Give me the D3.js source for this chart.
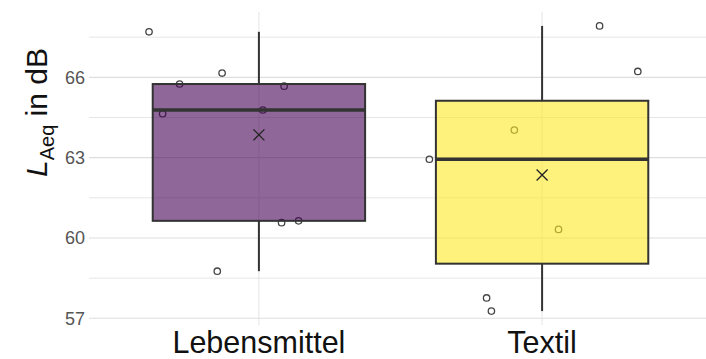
<!DOCTYPE html>
<html><head><meta charset="utf-8">
<script src="https://cdn.jsdelivr.net/npm/d3@7"></script>
<style>body{margin:0;background:#fff}svg{display:block}</style>
</head><body>
<svg id="c" width="706" height="359"></svg>
<script>
const categories = ["Lebensmittel", "Textil"];
const fillColors = ["#440154", "#FDE725"];
const valuesLebensmittel = [67.70, 65.75, 66.16, 65.67, 64.64, 64.78, 60.57, 60.64, 58.76];
const jitterLebensmittel = [-0.388, -0.280, -0.130, 0.089, -0.340, 0.014, 0.080, 0.140, -0.147];
const valuesTextil = [67.92, 66.22, 64.03, 62.94, 60.32, 57.76, 57.27];
const jitterTextil = [0.203, 0.338, -0.098, -0.398, 0.058, -0.196, -0.179];
const yTicks = [57, 60, 63, 66];
const yMinor = [58.5, 61.5, 64.5, 67.5];

const svg = d3.select("#c");
const font = "'Liberation Sans', Arial, sans-serif";
const panel = {left: 89, right: 712, top: 12, bottom: 325};

const y = d3.scaleLinear().domain([56.75, 68.44]).range([panel.bottom, panel.top]);
const x = d3.scalePoint().domain(categories).range([panel.left, panel.right]).padding(0.6);
const step = x.step();

const groups = [
  {name: categories[0], vals: valuesLebensmittel, jit: jitterLebensmittel, fill: fillColors[0]},
  {name: categories[1], vals: valuesTextil, jit: jitterTextil, fill: fillColors[1]}
];
groups.forEach(g => {
  const s = g.vals.slice().sort(d3.ascending);
  g.q1 = d3.quantile(s, 0.25); g.med = d3.quantile(s, 0.5); g.q3 = d3.quantile(s, 0.75);
  g.min = s[0]; g.max = s[s.length - 1]; g.mean = d3.mean(s);
});

// grid
const grid = svg.append("g");
grid.selectAll("line.minor").data(yMinor).enter().append("line")
  .attr("x1", panel.left).attr("x2", 706).attr("y1", d => y(d)).attr("y2", d => y(d))
  .attr("stroke", "#e6e6e6").attr("stroke-width", 1);
grid.selectAll("line.major").data(yTicks).enter().append("line")
  .attr("x1", panel.left).attr("x2", 706).attr("y1", d => y(d)).attr("y2", d => y(d))
  .attr("stroke", "#dedede").attr("stroke-width", 1.1);
grid.selectAll("line.vx").data(categories).enter().append("line")
  .attr("x1", d => x(d)).attr("x2", d => x(d)).attr("y1", panel.top).attr("y2", panel.bottom)
  .attr("stroke", "#e3e3e3").attr("stroke-width", 1);

// whiskers
groups.forEach(g => {
  svg.append("line").attr("x1", x(g.name)).attr("x2", x(g.name))
    .attr("y1", y(g.max)).attr("y2", y(g.q3)).attr("stroke", "#333").attr("stroke-width", 2);
  svg.append("line").attr("x1", x(g.name)).attr("x2", x(g.name))
    .attr("y1", y(g.q1)).attr("y2", y(g.min)).attr("stroke", "#333").attr("stroke-width", 2);
});

// points (under box)
groups.forEach(g => {
  svg.append("g").selectAll("circle").data(g.vals).enter().append("circle")
    .attr("cx", (d, i) => x(g.name) + g.jit[i] * step)
    .attr("cy", d => y(d)).attr("r", 3.2)
    .attr("fill", "none").attr("stroke", "#444").attr("stroke-width", 1.3);
});

// boxes
const bw = 0.75 * step;
groups.forEach(g => {
  svg.append("rect").attr("x", x(g.name) - bw / 2).attr("width", bw)
    .attr("y", y(g.q3)).attr("height", y(g.q1) - y(g.q3))
    .attr("fill", g.fill).attr("fill-opacity", 0.6)
    .attr("stroke", "#333").attr("stroke-width", 2);
  svg.append("line").attr("x1", x(g.name) - bw / 2).attr("x2", x(g.name) + bw / 2)
    .attr("y1", y(g.med)).attr("y2", y(g.med)).attr("stroke", "#333").attr("stroke-width", 3.6);
  const cx = x(g.name), cy = y(g.mean), r = 5.5;
  svg.append("path").attr("d", `M${cx-r},${cy-r}L${cx+r},${cy+r}M${cx-r},${cy+r}L${cx+r},${cy-r}`)
    .attr("stroke", "#222").attr("stroke-width", 1.3).attr("fill", "none");
});

// y axis labels
svg.append("g").selectAll("text").data(yTicks).enter().append("text")
  .attr("x", 85).attr("y", d => y(d)).attr("dy", "0.35em")
  .attr("text-anchor", "end").attr("font-family", font).attr("font-size", 18)
  .attr("fill", "#555").text(d => d);

// x axis labels
svg.append("g").selectAll("text").data(categories).enter().append("text")
  .attr("x", d => x(d)).attr("y", 353)
  .attr("text-anchor", "middle").attr("font-family", font).attr("font-size", 30.5)
  .attr("fill", "#111").text(d => d);

// y title
const t = svg.append("text").attr("transform", "translate(47,177) rotate(-90)")
  .attr("font-family", font).attr("font-size", 30).attr("fill", "#111");
t.append("tspan").attr("font-style", "italic").text("L");
t.append("tspan").attr("font-size", 20).attr("dy", 7).text("Aeq");
t.append("tspan").attr("dy", -7).text(" in dB");
</script>
</body></html>
